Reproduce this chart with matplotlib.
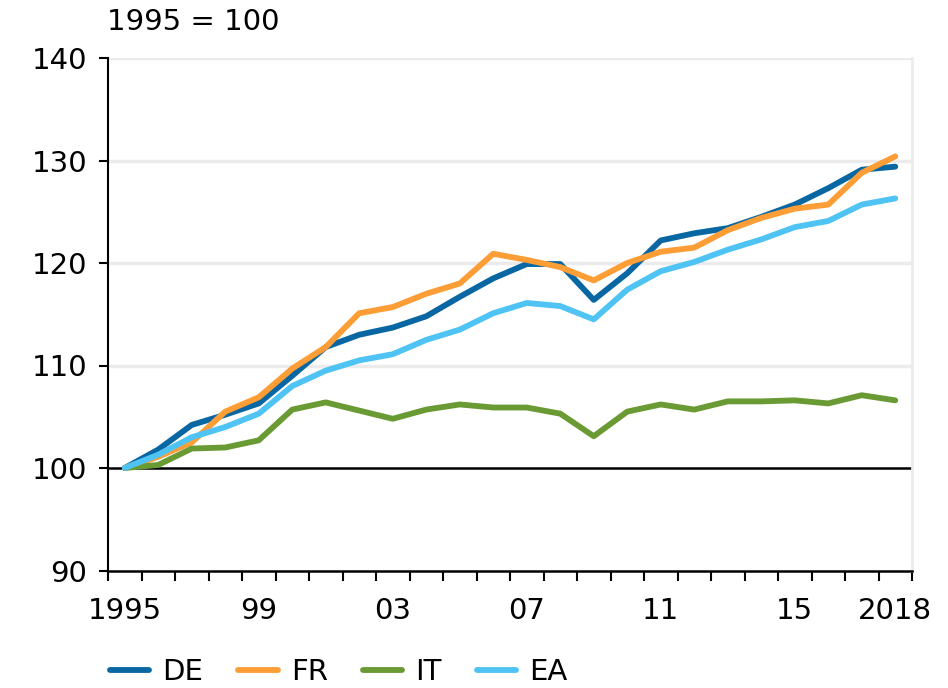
import matplotlib
matplotlib.use("Agg")
import matplotlib.pyplot as plt
import numpy as np

plt.rcParams['font.family'] = ['DejaVu Sans']

years = list(range(1995, 2019))
de = [100, 101.8, 104.2, 105.2, 106.3, 109.0, 111.8, 113.0, 113.7, 114.8, 116.7, 118.5, 119.9, 119.9,
      116.4, 119.0, 122.2, 122.9, 123.4, 124.5, 125.7, 127.3, 129.1, 129.4]
fr = [100, 101.1, 102.5, 105.5, 106.9, 109.7, 111.8, 115.1, 115.7, 117.0, 118.0, 120.9, 120.3, 119.6,
      118.3, 120.0, 121.1, 121.5, 123.2, 124.4, 125.3, 125.7, 128.8, 130.4]
it = [100, 100.3, 101.9, 102.0, 102.7, 105.7, 106.4, 105.6, 104.8, 105.7, 106.2, 105.9, 105.9, 105.3,
      103.1, 105.5, 106.2, 105.7, 106.5, 106.5, 106.6, 106.3, 107.1, 106.6]
ea = [100, 101.3, 103.0, 104.0, 105.3, 108.0, 109.5, 110.5, 111.1, 112.5, 113.5, 115.1, 116.1, 115.8,
      114.5, 117.4, 119.2, 120.1, 121.3, 122.3, 123.5, 124.1, 125.7, 126.3]
labels = ['DE', 'FR', 'IT', 'EA']
colors = ['#0866a3', '#fd9d35', '#6a9a33', '#4fc3f3']
xlabels = {1995: '1995', 1999: '99', 2003: '03', 2007: '07', 2011: '11', 2015: '15', 2018: '2018'}

fig = plt.figure(figsize=(9.48, 6.88), dpi=100)
ax = fig.add_axes([108/948, 1-570.5/688, (912-108)/948, (570.5-58)/688])

fs = 21
for ys in [110, 120, 130, 140]:
    ax.axhline(ys, color='#ebebeb', lw=2.5, zorder=0)
ax.axhline(100, color='black', lw=1.8, zorder=1)

for series, lab, col in zip([de, fr, it, ea], labels, colors):
    ax.plot(years, series, color=col, lw=4.2, label=lab, solid_capstyle='round', zorder=3)

ax.set_xlim(1994.5, 2018.5)
ax.set_ylim(90, 140)
ax.set_yticks([90, 100, 110, 120, 130, 140])
ax.set_xticks(list(xlabels.keys()))
ax.set_xticklabels(list(xlabels.values()))
ax.set_xticks(np.arange(1994.5, 2019, 1), minor=True)
ax.tick_params(axis='x', which='major', length=0, pad=19, labelsize=fs)
ax.tick_params(axis='x', which='minor', length=7, width=1.5, direction='out')
ax.tick_params(axis='y', which='major', length=6.5, width=1.5, pad=8.5, labelsize=fs)

ax.spines['top'].set_visible(False)
ax.spines['right'].set_color('#ebebeb')
ax.spines['right'].set_linewidth(2)
ax.spines['left'].set_linewidth(1.5)
ax.spines['bottom'].set_linewidth(1.8)

fig.text(107/948, 1-22/688, '1995 = 100', fontsize=fs, ha='left', va='center')

fig.legend(loc='center left', bbox_to_anchor=(110/948, 1-672/688), bbox_transform=fig.transFigure,
           ncol=4, frameon=False, fontsize=fs, handlelength=1.35, handletextpad=0.45,
           columnspacing=1.2, borderpad=0, borderaxespad=0)

fig.savefig('out.png', dpi=100)
